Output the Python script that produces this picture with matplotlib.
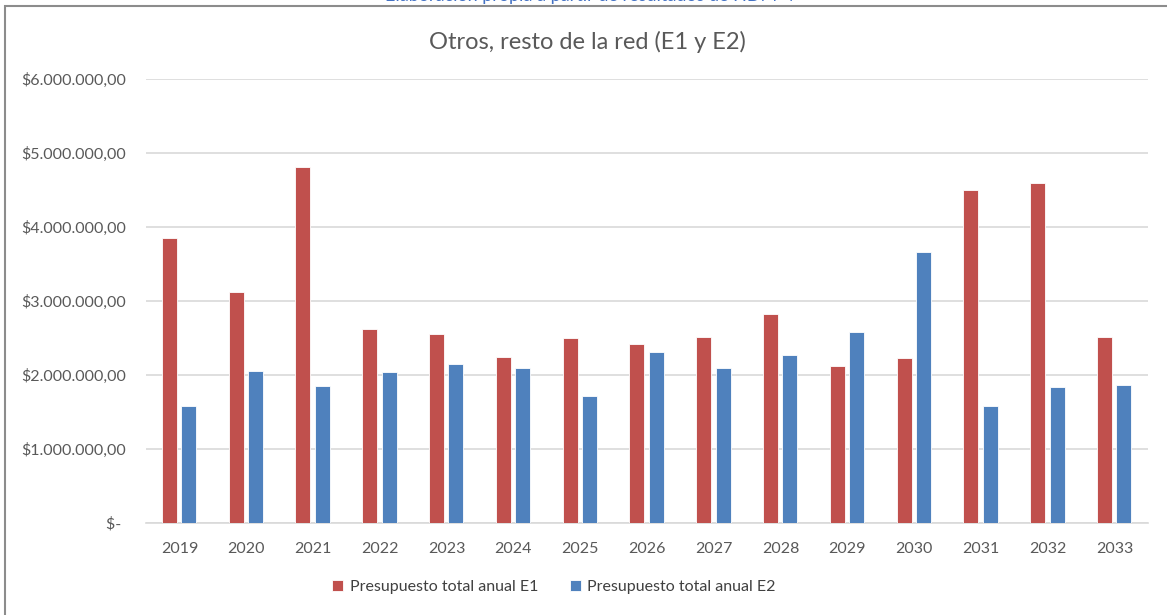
import matplotlib.pyplot as plt
import numpy as np
from matplotlib.patches import Rectangle

years = ['2019', '2020', '2021', '2022', '2023', '2024', '2025', '2026',
         '2027', '2028', '2029', '2030', '2031', '2032', '2033']
e1 = [3.85e6, 3.12e6, 4.81e6, 2.62e6, 2.55e6, 2.25e6, 2.50e6, 2.42e6,
      2.51e6, 2.83e6, 2.12e6, 2.23e6, 4.50e6, 4.60e6, 2.52e6]
e2 = [1.58e6, 2.06e6, 1.85e6, 2.04e6, 2.15e6, 2.09e6, 1.72e6, 2.31e6,
      2.09e6, 2.27e6, 2.58e6, 3.66e6, 1.58e6, 1.84e6, 1.87e6]
yticks = [0, 1e6, 2e6, 3e6, 4e6, 5e6, 6e6]
ylabels = ['$- ', '$1.000.000,00', '$2.000.000,00', '$3.000.000,00',
           '$4.000.000,00', '$5.000.000,00', '$6.000.000,00']

plt.rcParams['font.family'] = ['Lato', 'DejaVu Sans']
red = '#C0504D'
blue = '#4F81BD'
grey = '#595959'

fig = plt.figure(figsize=(11.67, 6.15), dpi=100)
ax = fig.add_axes([146/1167, 1-523/615, 1002/1167, (523-79)/615])

x = np.arange(len(years))
w = 0.225
ax.bar(x - 0.15, e1, w, color=red, edgecolor='white', linewidth=0.6,
       label='Presupuesto total anual E1', zorder=3)
ax.bar(x + 0.14, e2, w, color=blue, edgecolor='white', linewidth=0.6,
       label='Presupuesto total anual E2', zorder=3)

ax.set_xlim(-0.5, len(years) - 0.5)
ax.set_ylim(0, 6e6)
ax.set_yticks(yticks)
ax.set_yticklabels(ylabels)
ax.set_xticks(x)
ax.set_xticklabels(years)
ax.tick_params(axis='both', length=0, colors=grey, labelsize=11.5)
ax.tick_params(axis='y', pad=14.5)
ax.tick_params(axis='x', pad=14)
ax.grid(axis='y', color='#D9D9D9', linewidth=1.2, zorder=0)
for s in ['top', 'right', 'left']:
    ax.spines[s].set_visible(False)
ax.spines['bottom'].set_color('#D9D9D9')
ax.spines['bottom'].set_linewidth(1.2)

fig.text(0.503, 1-42/615, 'Otros, resto de la red (E1 y E2)', ha='center',
         va='center', fontsize=17, color=grey)
# texto de la fuente, cortado por arriba como en la imagen original
fig.text(0.505, 1-(-4)/615, 'Elaboración propia a partir de resultados de HDM-4',
         ha='center', va='center', fontsize=13, color='#4472C4')

fig.legend(loc='center', bbox_to_anchor=(554/1167, 1-587/615), ncol=2,
           frameon=False, fontsize=11.5, handlelength=0.7, handleheight=0.7,
           handletextpad=0.4, columnspacing=2.0, labelcolor='#404040')

fig.patches.append(Rectangle((5/1167, -0.05), 1.0, 1-6/615+0.05,
                             transform=fig.transFigure, fill=False,
                             edgecolor='#8C8C8C', linewidth=1.5))

fig.savefig('out.png', dpi=100)
